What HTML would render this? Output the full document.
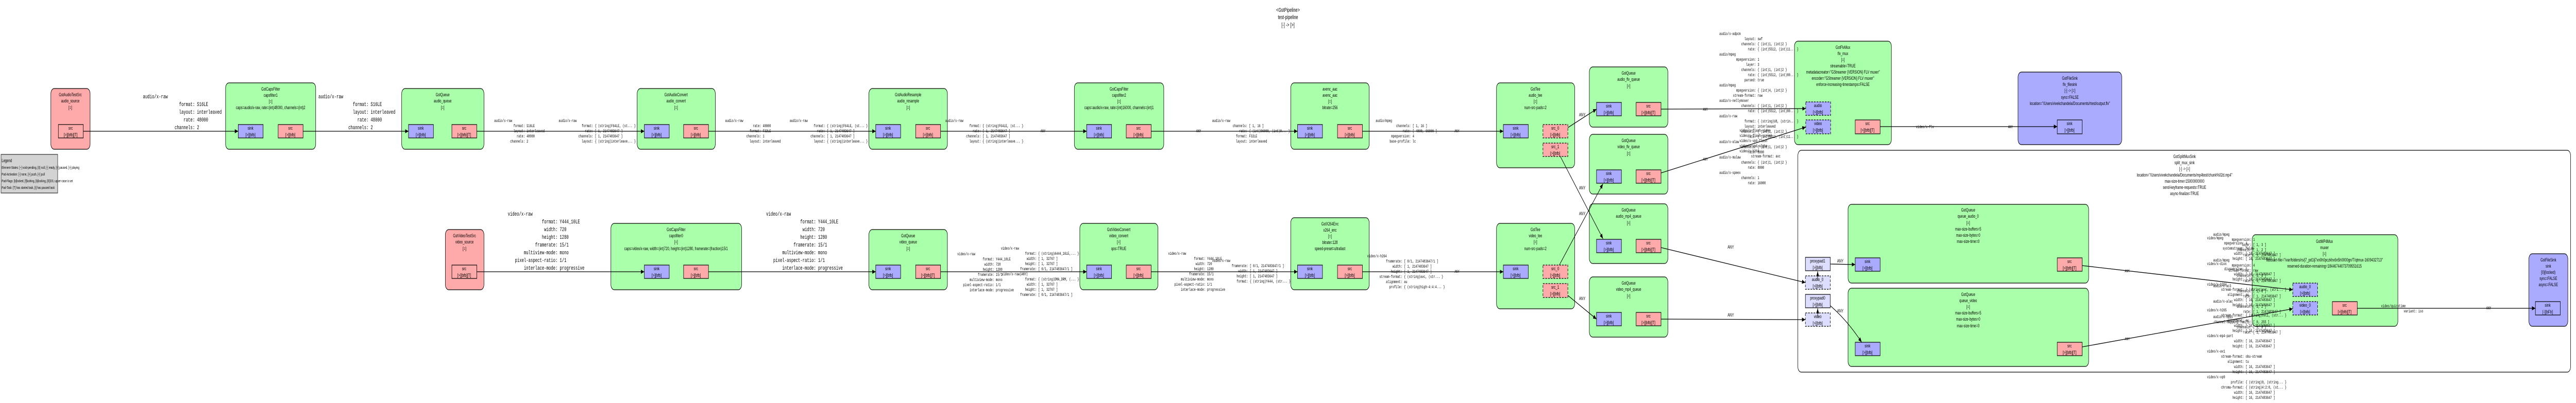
<!DOCTYPE html>
<html><head><meta charset="utf-8"><style>
html,body{margin:0;padding:0;background:#fff;width:100%;height:100%;overflow:hidden;}
svg{display:block;width:100vw;height:100vh;position:absolute;left:0;top:0;}
text{font-family:"Liberation Sans",sans-serif;font-size:9px;fill:#000;}
.t{text-anchor:middle;}
.p{text-anchor:middle;font-size:9.5px;}
.m{font-family:"Liberation Mono",monospace;font-size:8px;}
.me{font-family:"Liberation Mono",monospace;font-size:8px;text-anchor:end;}
.b{font-family:"Liberation Mono",monospace;font-size:11px;}
.be{font-family:"Liberation Mono",monospace;font-size:11px;text-anchor:end;}
.el{fill:#aaffaa;stroke:#000;stroke-width:1.2;}
.so{fill:#ffaaaa;stroke:#000;stroke-width:1.2;}
.si{fill:#aaaaff;stroke:#000;stroke-width:1.2;}
.ps{fill:#aaaaff;stroke:#000;stroke-width:1.2;}
.pr{fill:#ffaaaa;stroke:#000;stroke-width:1.2;}
.pd{stroke-dasharray:5,3;}
.px{fill:#ddddff;stroke:#000;stroke-width:1.2;}
.e{stroke:#000;stroke-width:1.3;fill:none;marker-end:url(#a);}
.a{font-size:9px;}
</style></head><body>
<svg viewBox="0 0 7548 783" preserveAspectRatio="none" xmlns="http://www.w3.org/2000/svg">
<defs><marker id="a" markerWidth="10" markerHeight="8" refX="10" refY="4" orient="auto" markerUnits="userSpaceOnUse"><path d="M0,0 L10,4 L0,8 z" fill="#000"/></marker></defs>

<text class="t" x="3774" y="23" style="font-size:11px">&lt;GstPipeline&gt;</text>
<text class="t" x="3774" y="37" style="font-size:11px">test-pipeline</text>
<text class="t" x="3774" y="52" style="font-size:11px">[-] -&gt; [&gt;]</text>

<rect x="3" y="300" width="166" height="75" fill="#d3d3d3" stroke="#000"/>
<text x="5" y="315">Legend</text>
<text x="5" y="328" style="font-size:7px">Element-States: [~] void-pending, [0] null, [-] ready, [=] paused, [&gt;] playing</text>
<text x="5" y="341" style="font-size:7px">Pad-Activation: [-] none, [&gt;] push, [&lt;] pull</text>
<text x="5" y="354" style="font-size:7px">Pad-Flags: [b]locked, [f]lushing, [b]locking, [E]OS; upper-case is set</text>
<text x="5" y="367" style="font-size:7px">Pad-Task: [T] has started task, [t] has paused task</text>

<rect x="5268" y="292" width="2264" height="431" rx="10" fill="#fff" stroke="#000" stroke-width="1.2"/>
<text class="t" x="6401" y="307">GstSplitMuxSink</text>
<text class="t" x="6401" y="319">split_mux_sink</text>
<text class="t" x="6401" y="331">[-] -&gt; [=]</text>
<text class="t" x="6401" y="343">location="/Users/vivekchandela/Documents/mp4test/chunk%02d.mp4"</text>
<text class="t" x="6401" y="355">max-size-time=15000000000</text>
<text class="t" x="6401" y="367">send-keyframe-requests=TRUE</text>
<text class="t" x="6401" y="379">async-finalize=TRUE</text>

<rect class="so" x="149" y="172" width="115" height="118" rx="10"/>
<text class="t" x="206" y="187">GstAudioTestSrc</text><text class="t" x="206" y="199">audio_source</text><text class="t" x="206" y="212">[=]</text>
<rect class="pr" x="171" y="242" width="73" height="26"/><text class="p" x="207" y="252">src</text><text class="p" x="207" y="265">[&gt;][bfb][T]</text>

<rect class="el" x="661" y="161" width="264" height="129" rx="10"/>
<text class="t" x="793" y="176">GstCapsFilter</text><text class="t" x="793" y="188">capsfilter1</text><text class="t" x="793" y="200">[=]</text><text class="t" x="793" y="212">caps=audio/x-raw, rate=(int)48000, channels=(int)2</text>
<rect class="ps" x="698" y="242" width="73" height="26"/><text class="p" x="734" y="252">sink</text><text class="p" x="734" y="265">[&gt;][bfb]</text>
<rect class="pr" x="815" y="242" width="73" height="26"/><text class="p" x="851" y="252">src</text><text class="p" x="851" y="265">[&gt;][bfb]</text>

<rect class="el" x="1177" y="172" width="241" height="118" rx="10"/>
<text class="t" x="1297" y="187">GstQueue</text><text class="t" x="1297" y="199">audio_queue</text><text class="t" x="1297" y="212">[=]</text>
<rect class="ps" x="1197" y="242" width="73" height="26"/><text class="p" x="1233" y="252">sink</text><text class="p" x="1233" y="265">[&gt;][bfb]</text>
<rect class="pr" x="1324" y="242" width="73" height="26"/><text class="p" x="1360" y="252">src</text><text class="p" x="1360" y="265">[&gt;][bfb][T]</text>

<rect class="el" x="1867" y="172" width="229" height="118" rx="10"/>
<text class="t" x="1981" y="187">GstAudioConvert</text><text class="t" x="1981" y="199">audio_convert</text><text class="t" x="1981" y="212">[=]</text>
<rect class="ps" x="1888" y="242" width="73" height="26"/><text class="p" x="1924" y="252">sink</text><text class="p" x="1924" y="265">[&gt;][bfb]</text>
<rect class="pr" x="2003" y="242" width="73" height="26"/><text class="p" x="2039" y="252">src</text><text class="p" x="2039" y="265">[&gt;][bfb]</text>

<rect class="el" x="2546" y="172" width="230" height="118" rx="10"/>
<text class="t" x="2661" y="187">GstAudioResample</text><text class="t" x="2661" y="199">audio_resample</text><text class="t" x="2661" y="212">[=]</text>
<rect class="ps" x="2566" y="242" width="73" height="26"/><text class="p" x="2602" y="252">sink</text><text class="p" x="2602" y="265">[&gt;][bfb]</text>
<rect class="pr" x="2683" y="242" width="73" height="26"/><text class="p" x="2719" y="252">src</text><text class="p" x="2719" y="265">[&gt;][bfb]</text>

<rect class="el" x="3148" y="161" width="262" height="129" rx="10"/>
<text class="t" x="3279" y="176">GstCapsFilter</text><text class="t" x="3279" y="188">capsfilter2</text><text class="t" x="3279" y="200">[=]</text><text class="t" x="3279" y="212">caps=audio/x-raw, rate=(int)16000, channels=(int)1</text>
<rect class="ps" x="3184" y="242" width="73" height="26"/><text class="p" x="3220" y="252">sink</text><text class="p" x="3220" y="265">[&gt;][bfb]</text>
<rect class="pr" x="3300" y="242" width="73" height="26"/><text class="p" x="3336" y="252">src</text><text class="p" x="3336" y="265">[&gt;][bfb]</text>

<rect class="el" x="3782" y="161" width="230" height="129" rx="10"/>
<text class="t" x="3897" y="176">avenc_aac</text><text class="t" x="3897" y="188">avenc_aac</text><text class="t" x="3897" y="200">[=]</text><text class="t" x="3897" y="212">bitrate=256</text>
<rect class="ps" x="3802" y="242" width="73" height="26"/><text class="p" x="3838" y="252">sink</text><text class="p" x="3838" y="265">[&gt;][bfb]</text>
<rect class="pr" x="3919" y="242" width="73" height="26"/><text class="p" x="3955" y="252">src</text><text class="p" x="3955" y="265">[&gt;][bfb]</text>

<rect class="el" x="4385" y="161" width="229" height="165" rx="10"/>
<text class="t" x="4499" y="176">GstTee</text><text class="t" x="4499" y="188">audio_tee</text><text class="t" x="4499" y="200">[=]</text><text class="t" x="4499" y="212">num-src-pads=2</text>
<rect class="ps" x="4405" y="242" width="73" height="26"/><text class="p" x="4441" y="252">sink</text><text class="p" x="4441" y="265">[&gt;][bfb]</text>
<rect class="pr pd" x="4521" y="242" width="73" height="26"/><text class="p" x="4557" y="252">src_0</text><text class="p" x="4557" y="265">[&gt;][bfb]</text>
<rect class="pr pd" x="4521" y="278" width="73" height="26"/><text class="p" x="4557" y="288">src_1</text><text class="p" x="4557" y="301">[&gt;][bfb]</text>

<rect class="el" x="4657" y="130" width="230" height="117" rx="10"/>
<text class="t" x="4772" y="145">GstQueue</text><text class="t" x="4772" y="157">audio_flv_queue</text><text class="t" x="4772" y="170">[=]</text>
<rect class="ps" x="4678" y="199" width="73" height="26"/><text class="p" x="4714" y="209">sink</text><text class="p" x="4714" y="222">[&gt;][bfb]</text>
<rect class="pr" x="4794" y="199" width="73" height="26"/><text class="p" x="4830" y="209">src</text><text class="p" x="4830" y="222">[&gt;][bfb][T]</text>

<rect class="el" x="4657" y="261" width="230" height="116" rx="10"/>
<text class="t" x="4772" y="276">GstQueue</text><text class="t" x="4772" y="288">video_flv_queue</text><text class="t" x="4772" y="301">[=]</text>
<rect class="ps" x="4678" y="330" width="73" height="26"/><text class="p" x="4714" y="340">sink</text><text class="p" x="4714" y="353">[&gt;][bfb]</text>
<rect class="pr" x="4794" y="330" width="73" height="26"/><text class="p" x="4830" y="340">src</text><text class="p" x="4830" y="353">[&gt;][bfb][T]</text>

<rect class="el" x="4657" y="396" width="230" height="116" rx="10"/>
<text class="t" x="4772" y="411">GstQueue</text><text class="t" x="4772" y="423">audio_mp4_queue</text><text class="t" x="4772" y="436">[=]</text>
<rect class="ps" x="4678" y="465" width="73" height="26"/><text class="p" x="4714" y="475">sink</text><text class="p" x="4714" y="488">[&gt;][bfb]</text>
<rect class="pr" x="4794" y="465" width="73" height="26"/><text class="p" x="4830" y="475">src</text><text class="p" x="4830" y="488">[&gt;][bfb][T]</text>

<rect class="el" x="4657" y="538" width="230" height="117" rx="10"/>
<text class="t" x="4772" y="553">GstQueue</text><text class="t" x="4772" y="565">video_mp4_queue</text><text class="t" x="4772" y="578">[=]</text>
<rect class="ps" x="4678" y="607" width="73" height="26"/><text class="p" x="4714" y="617">sink</text><text class="p" x="4714" y="630">[&gt;][bfb]</text>
<rect class="pr" x="4794" y="607" width="73" height="26"/><text class="p" x="4830" y="617">src</text><text class="p" x="4830" y="630">[&gt;][bfb][T]</text>

<rect class="el" x="5258" y="80" width="284" height="201" rx="10"/>
<text class="t" x="5400" y="95">GstFlvMux</text><text class="t" x="5400" y="107">flv_mux</text><text class="t" x="5400" y="119">[=]</text><text class="t" x="5400" y="131">streamable=TRUE</text>
<text class="t" x="5400" y="143">metadatacreator="GStreamer {VERSION} FLV muxer"</text><text class="t" x="5400" y="155">encoder="GStreamer {VERSION} FLV muxer"</text><text class="t" x="5400" y="167">enforce-increasing-timestamps=FALSE</text>
<rect class="ps pd" x="5291" y="198" width="73" height="26"/><text class="p" x="5327" y="208">audio</text><text class="p" x="5327" y="221">[&gt;][bfb]</text>
<rect class="ps pd" x="5291" y="233" width="73" height="27"/><text class="p" x="5327" y="243">video</text><text class="p" x="5327" y="256">[&gt;][bfb]</text>
<rect class="pr" x="5436" y="233" width="73" height="27"/><text class="p" x="5472" y="243">src</text><text class="p" x="5472" y="256">[&gt;][bfb][T]</text>

<rect class="si" x="5913" y="140" width="304" height="141" rx="10"/>
<text class="t" x="6065" y="155">GstFileSink</text><text class="t" x="6065" y="167">flv_filesink</text><text class="t" x="6065" y="179">[-] -&gt; [=]</text><text class="t" x="6065" y="192">sync=FALSE</text><text class="t" x="6065" y="204">location="/Users/vivekchandela/Documents/rtest/output.flv"</text>
<rect class="ps" x="6028" y="233" width="73" height="27"/><text class="p" x="6064" y="243">sink</text><text class="p" x="6064" y="256">[&gt;][bfb]</text>

<rect class="so" x="1305" y="446" width="113" height="117" rx="10"/>
<text class="t" x="1361" y="461">GstVideoTestSrc</text><text class="t" x="1361" y="473">video_source</text><text class="t" x="1361" y="486">[=]</text>
<rect class="pr" x="1324" y="515" width="73" height="26"/><text class="p" x="1360" y="525">src</text><text class="p" x="1360" y="538">[&gt;][bfb][T]</text>

<rect class="el" x="1790" y="434" width="383" height="129" rx="10"/>
<text class="t" x="1981" y="449">GstCapsFilter</text><text class="t" x="1981" y="461">capsfilter0</text><text class="t" x="1981" y="473">[=]</text><text class="t" x="1981" y="486">caps=video/x-raw, width=(int)720, height=(int)1280, framerate=(fraction)15/1</text>
<rect class="ps" x="1888" y="515" width="73" height="26"/><text class="p" x="1924" y="525">sink</text><text class="p" x="1924" y="538">[&gt;][bfb]</text>
<rect class="pr" x="2003" y="515" width="73" height="26"/><text class="p" x="2039" y="525">src</text><text class="p" x="2039" y="538">[&gt;][bfb]</text>

<rect class="el" x="2546" y="446" width="230" height="117" rx="10"/>
<text class="t" x="2661" y="461">GstQueue</text><text class="t" x="2661" y="473">video_queue</text><text class="t" x="2661" y="486">[=]</text>
<rect class="ps" x="2566" y="515" width="73" height="26"/><text class="p" x="2602" y="525">sink</text><text class="p" x="2602" y="538">[&gt;][bfb]</text>
<rect class="pr" x="2683" y="515" width="73" height="26"/><text class="p" x="2719" y="525">src</text><text class="p" x="2719" y="538">[&gt;][bfb][T]</text>

<rect class="el" x="3164" y="434" width="229" height="129" rx="10"/>
<text class="t" x="3278" y="449">GstVideoConvert</text><text class="t" x="3278" y="461">video_convert</text><text class="t" x="3278" y="473">[=]</text><text class="t" x="3278" y="486">qos=TRUE</text>
<rect class="ps" x="3184" y="515" width="73" height="26"/><text class="p" x="3220" y="525">sink</text><text class="p" x="3220" y="538">[&gt;][bfb]</text>
<rect class="pr" x="3300" y="515" width="73" height="26"/><text class="p" x="3336" y="525">src</text><text class="p" x="3336" y="538">[&gt;][bfb]</text>

<rect class="el" x="3782" y="423" width="230" height="140" rx="10"/>
<text class="t" x="3897" y="438">GstX264Enc</text><text class="t" x="3897" y="450">x264_enc</text><text class="t" x="3897" y="462">[=]</text><text class="t" x="3897" y="474">bitrate=128</text><text class="t" x="3897" y="486">speed-preset=ultrafast</text>
<rect class="ps" x="3802" y="515" width="73" height="26"/><text class="p" x="3838" y="525">sink</text><text class="p" x="3838" y="538">[&gt;][bfb]</text>
<rect class="pr" x="3919" y="515" width="73" height="26"/><text class="p" x="3955" y="525">src</text><text class="p" x="3955" y="538">[&gt;][bfb]</text>

<rect class="el" x="4385" y="434" width="229" height="166" rx="10"/>
<text class="t" x="4499" y="449">GstTee</text><text class="t" x="4499" y="461">video_tee</text><text class="t" x="4499" y="473">[=]</text><text class="t" x="4499" y="486">num-src-pads=2</text>
<rect class="ps" x="4405" y="515" width="73" height="26"/><text class="p" x="4441" y="525">sink</text><text class="p" x="4441" y="538">[&gt;][bfb]</text>
<rect class="pr pd" x="4521" y="515" width="73" height="26"/><text class="p" x="4557" y="525">src_0</text><text class="p" x="4557" y="538">[&gt;][bfb]</text>
<rect class="pr pd" x="4521" y="551" width="73" height="27"/><text class="p" x="4557" y="561">src_1</text><text class="p" x="4557" y="574">[&gt;][bfb]</text>

<rect class="px" x="5290" y="500" width="73" height="26"/><text class="p" x="5326" y="510">proxypad1</text><text class="p" x="5326" y="523">[&gt;][bfb]</text>
<rect class="px pd" x="5290" y="536" width="73" height="26"/><text class="p" x="5326" y="546">audio_0</text><text class="p" x="5326" y="559">[&gt;][bfb]</text>
<rect class="px" x="5290" y="572" width="73" height="26"/><text class="p" x="5326" y="582">proxypad0</text><text class="p" x="5326" y="595">[&gt;][bfb]</text>
<rect class="px pd" x="5290" y="608" width="73" height="26"/><text class="p" x="5326" y="618">video</text><text class="p" x="5326" y="631">[&gt;][bfb]</text>
<line class="e" x1="5326" y1="545" x2="5326" y2="527"/>
<line class="e" x1="5326" y1="617" x2="5326" y2="599"/>

<rect class="el" x="5415" y="397" width="705" height="153" rx="10"/>
<text class="t" x="5767" y="411">GstQueue</text><text class="t" x="5767" y="423">queue_audio_0</text><text class="t" x="5767" y="436">[=]</text><text class="t" x="5767" y="448">max-size-buffers=5</text><text class="t" x="5767" y="460">max-size-bytes=0</text><text class="t" x="5767" y="472">max-size-time=0</text>
<rect class="ps" x="5436" y="501" width="73" height="26"/><text class="p" x="5472" y="511">sink</text><text class="p" x="5472" y="524">[&gt;][bfb]</text>
<rect class="pr" x="6028" y="501" width="73" height="26"/><text class="p" x="6064" y="511">src</text><text class="p" x="6064" y="524">[&gt;][bfb][T]</text>

<rect class="el" x="5415" y="560" width="705" height="152" rx="10"/>
<text class="t" x="5767" y="575">GstQueue</text><text class="t" x="5767" y="587">queue_video</text><text class="t" x="5767" y="599">[=]</text><text class="t" x="5767" y="611">max-size-buffers=5</text><text class="t" x="5767" y="623">max-size-bytes=0</text><text class="t" x="5767" y="636">max-size-time=0</text>
<rect class="ps" x="5436" y="665" width="73" height="26"/><text class="p" x="5472" y="675">sink</text><text class="p" x="5472" y="688">[&gt;][bfb]</text>
<rect class="pr" x="6028" y="665" width="73" height="26"/><text class="p" x="6064" y="675">src</text><text class="p" x="6064" y="688">[&gt;][bfb][T]</text>

<rect class="el" x="6599" y="456" width="427" height="178" rx="10"/>
<text class="t" x="6811" y="472">GstMP4Mux</text><text class="t" x="6811" y="484">muxer</text><text class="t" x="6811" y="496">[=]</text><text class="t" x="6811" y="508">faststart-file="/var/folders/rs/j7_pd1lj7xn0h0pczkhx6n5h0000gn/T/qtmux-1609432713"</text><text class="t" x="6811" y="520">reserved-duration-remaining=18446744073709551615</text>
<rect class="ps pd" x="6718" y="550" width="73" height="26"/><text class="p" x="6754" y="560">audio_0</text><text class="p" x="6754" y="573">[&gt;][bfb]</text>
<rect class="ps pd" x="6718" y="586" width="73" height="26"/><text class="p" x="6754" y="596">video_0</text><text class="p" x="6754" y="609">[&gt;][bfb]</text>
<rect class="pr" x="6834" y="586" width="73" height="26"/><text class="p" x="6870" y="596">src</text><text class="p" x="6870" y="609">[&gt;][bfb][T]</text>

<rect class="si" x="7410" y="493" width="114" height="141" rx="10"/>
<text class="t" x="7467" y="508">GstFileSink</text><text class="t" x="7467" y="520">sink</text><text class="t" x="7467" y="532">[0](locked)</text><text class="t" x="7467" y="544">sync=FALSE</text><text class="t" x="7467" y="556">async=FALSE</text>
<rect class="ps" x="7429" y="586" width="73" height="26"/><text class="p" x="7465" y="596">sink</text><text class="p" x="7465" y="609">[-][bFb]</text>

<line class="e" x1="244" y1="255" x2="698" y2="255"/>
<line class="e" x1="888" y1="255" x2="1197" y2="255"/>
<line class="e" x1="1397" y1="255" x2="1888" y2="255"/>
<line class="e" x1="2076" y1="255" x2="2566" y2="255"/>
<line class="e" x1="2756" y1="255" x2="3184" y2="255"/>
<line class="e" x1="3373" y1="255" x2="3802" y2="255"/>
<line class="e" x1="3992" y1="255" x2="4405" y2="255"/>
<line class="e" x1="4594" y1="248" x2="4678" y2="212"/>
<line class="e" x1="4572" y1="304" x2="4697" y2="464"/>
<line class="e" x1="4867" y1="212" x2="5291" y2="211"/>
<line class="e" x1="4867" y1="336" x2="5291" y2="247"/>
<line class="e" x1="5509" y1="246" x2="6028" y2="246"/>
<line class="e" x1="4867" y1="481" x2="5290" y2="549"/>
<line class="e" x1="4867" y1="620" x2="5290" y2="621"/>
<line class="e" x1="5363" y1="513" x2="5436" y2="514"/>
<path class="e" d="M5363,594 C5400,615 5430,640 5455,665"/>
<line class="e" x1="6101" y1="516" x2="6718" y2="563"/>
<line class="e" x1="6101" y1="674" x2="6718" y2="600"/>
<line class="e" x1="6907" y1="599" x2="7429" y2="599"/>

<line class="e" x1="1397" y1="528" x2="1888" y2="528"/>
<line class="e" x1="2076" y1="528" x2="2566" y2="528"/>
<line class="e" x1="2756" y1="528" x2="3184" y2="528"/>
<line class="e" x1="3373" y1="528" x2="3802" y2="528"/>
<line class="e" x1="3992" y1="528" x2="4405" y2="528"/>
<line class="e" x1="4569" y1="515" x2="4697" y2="357"/>
<line class="e" x1="4594" y1="574" x2="4678" y2="620"/>

<text class="b" x="419" y="191">audio/x-raw</text>
<text class="be" x="571" y="206">format:</text><text class="b" x="577" y="206">S16LE</text>
<text class="be" x="571" y="221">layout:</text><text class="b" x="577" y="221">interleaved</text>
<text class="be" x="571" y="236">rate:</text><text class="b" x="577" y="236">48000</text>
<text class="be" x="571" y="251">channels:</text><text class="b" x="577" y="251">2</text>

<text class="b" x="933" y="191">audio/x-raw</text>
<text class="be" x="1080" y="206">format:</text><text class="b" x="1086" y="206">S16LE</text>
<text class="be" x="1080" y="221">layout:</text><text class="b" x="1086" y="221">interleaved</text>
<text class="be" x="1080" y="236">rate:</text><text class="b" x="1086" y="236">48000</text>
<text class="be" x="1080" y="251">channels:</text><text class="b" x="1086" y="251">2</text>

<text class="m" x="1448" y="237">audio/x-raw</text>
<text class="me" x="1538" y="247">format:</text><text class="m" x="1543" y="247">S16LE</text>
<text class="me" x="1538" y="257">layout:</text><text class="m" x="1543" y="257">interleaved</text>
<text class="me" x="1538" y="267">rate:</text><text class="m" x="1543" y="267">48000</text>
<text class="me" x="1538" y="277">channels:</text><text class="m" x="1543" y="277">2</text>
<text class="m" x="1637" y="237">audio/x-raw</text>
<text class="me" x="1738" y="247">format:</text><text class="m" x="1743" y="247">{ (string)F64LE, (st... }</text>
<text class="me" x="1738" y="257">rate:</text><text class="m" x="1743" y="257">[ 1, 2147483647 ]</text>
<text class="me" x="1738" y="267">channels:</text><text class="m" x="1743" y="267">[ 1, 2147483647 ]</text>
<text class="me" x="1738" y="277">layout:</text><text class="m" x="1743" y="277">{ (string)interleave... }</text>

<text class="m" x="2125" y="237">audio/x-raw</text>
<text class="me" x="2230" y="247">rate:</text><text class="m" x="2235" y="247">48000</text>
<text class="me" x="2230" y="257">format:</text><text class="m" x="2235" y="257">F32LE</text>
<text class="me" x="2230" y="267">channels:</text><text class="m" x="2235" y="267">1</text>
<text class="me" x="2230" y="277">layout:</text><text class="m" x="2235" y="277">interleaved</text>
<text class="m" x="2314" y="237">audio/x-raw</text>
<text class="me" x="2418" y="247">format:</text><text class="m" x="2423" y="247">{ (string)F64LE, (st... }</text>
<text class="me" x="2418" y="257">rate:</text><text class="m" x="2423" y="257">[ 1, 2147483647 ]</text>
<text class="me" x="2418" y="267">channels:</text><text class="m" x="2423" y="267">[ 1, 2147483647 ]</text>
<text class="me" x="2418" y="277">layout:</text><text class="m" x="2423" y="277">{ (string)interleave... }</text>

<text class="m" x="2770" y="237">audio/x-raw</text>
<text class="me" x="2874" y="247">format:</text><text class="m" x="2879" y="247">{ (string)F64LE, (st... }</text>
<text class="me" x="2874" y="257">rate:</text><text class="m" x="2879" y="257">[ 1, 2147483647 ]</text>
<text class="me" x="2874" y="267">channels:</text><text class="m" x="2879" y="267">[ 1, 2147483647 ]</text>
<text class="me" x="2874" y="277">layout:</text><text class="m" x="2879" y="277">{ (string)interleave... }</text>
<text class="m" x="3049" y="257">ANY</text>

<text class="m" x="3505" y="257">ANY</text>
<text class="m" x="3552" y="237">audio/x-raw</text>
<text class="me" x="3655" y="247">channels:</text><text class="m" x="3660" y="247">[ 1, 16 ]</text>
<text class="me" x="3655" y="257">rate:</text><text class="m" x="3660" y="257">{ (int)96000, (int)8... }</text>
<text class="me" x="3655" y="267">format:</text><text class="m" x="3660" y="267">F32LE</text>
<text class="me" x="3655" y="277">layout:</text><text class="m" x="3660" y="277">interleaved</text>

<text class="m" x="4031" y="237">audio/mpeg</text>
<text class="me" x="4134" y="247">channels:</text><text class="m" x="4139" y="247">[ 1, 16 ]</text>
<text class="me" x="4134" y="257">rate:</text><text class="m" x="4139" y="257">[ 4800, 96000 ]</text>
<text class="me" x="4134" y="267">mpegversion:</text><text class="m" x="4139" y="267">4</text>
<text class="me" x="4134" y="277">base-profile:</text><text class="m" x="4139" y="277">lc</text>
<text class="m" x="4262" y="257">ANY</text>

<text class="a" x="4627" y="226">ANY</text>
<text class="a" x="4627" y="368">ANY</text>
<text class="a" x="4627" y="418">ANY</text>
<text class="a" x="4627" y="583">ANY</text>
<text class="m" x="4990" y="215">ANY</text>
<text class="m" x="4990" y="312">ANY</text>
<text class="a" x="5062" y="483">ANY</text>
<text class="a" x="5062" y="615">ANY</text>
<text class="a" x="5383" y="510">ANY</text>
<text class="a" x="5383" y="607">ANY</text>
<text class="m" x="5614" y="249">video/x-flv</text>
<text class="m" x="5884" y="249">ANY</text>
<text class="m" x="6226" y="529">ANY</text>
<text class="m" x="6226" y="661">ANY</text>
<text class="m" x="6977" y="597">video/quicktime</text>
<text class="m" x="7043" y="607">variant: iso</text>
<text class="m" x="7285" y="601">ANY</text>

<text class="m" x="5038" y="68">audio/x-adpcm</text>
<text class="me" x="5145" y="78">layout:</text><text class="m" x="5150" y="78">swf</text>
<text class="me" x="5145" y="88">channels:</text><text class="m" x="5150" y="88">{ (int)1, (int)2 }</text>
<text class="me" x="5145" y="98">rate:</text><text class="m" x="5150" y="98">{ (int)5512, (int)11... }</text>
<text class="m" x="5038" y="108">audio/mpeg</text>
<text class="me" x="5145" y="118">mpegversion:</text><text class="m" x="5150" y="118">1</text>
<text class="me" x="5145" y="128">layer:</text><text class="m" x="5150" y="128">3</text>
<text class="me" x="5145" y="138">channels:</text><text class="m" x="5150" y="138">{ (int)1, (int)2 }</text>
<text class="me" x="5145" y="148">rate:</text><text class="m" x="5150" y="148">{ (int)5512, (int)80... }</text>
<text class="me" x="5145" y="158">parsed:</text><text class="m" x="5150" y="158">true</text>
<text class="m" x="5038" y="168">audio/mpeg</text>
<text class="me" x="5145" y="178">mpegversion:</text><text class="m" x="5150" y="178">{ (int)4, (int)2 }</text>
<text class="me" x="5145" y="188">stream-format:</text><text class="m" x="5150" y="188">raw</text>
<text class="m" x="5038" y="198">audio/x-nellymoser</text>
<text class="me" x="5145" y="208">channels:</text><text class="m" x="5150" y="208">{ (int)1, (int)2 }</text>
<text class="me" x="5145" y="218">rate:</text><text class="m" x="5150" y="218">{ (int)5512, (int)80... }</text>
<text class="m" x="5038" y="228">audio/x-raw</text>
<text class="me" x="5145" y="238">format:</text><text class="m" x="5150" y="238">{ (string)U8, (strin... }</text>
<text class="me" x="5145" y="248">layout:</text><text class="m" x="5150" y="248">interleaved</text>
<text class="me" x="5145" y="258">channels:</text><text class="m" x="5150" y="258">{ (int)1, (int)2 }</text>
<text class="me" x="5145" y="268">rate:</text><text class="m" x="5150" y="268">{ (int)5512, (int)11... }</text>
<text class="m" x="5038" y="278">audio/x-alaw</text>
<text class="me" x="5145" y="288">channels:</text><text class="m" x="5150" y="288">{ (int)1, (int)2 }</text>
<text class="me" x="5145" y="298">rate:</text><text class="m" x="5150" y="298">8000</text>
<text class="m" x="5038" y="308">audio/x-mulaw</text>
<text class="me" x="5145" y="318">channels:</text><text class="m" x="5150" y="318">{ (int)1, (int)2 }</text>
<text class="me" x="5145" y="328">rate:</text><text class="m" x="5150" y="328">8000</text>
<text class="m" x="5038" y="338">audio/x-speex</text>
<text class="me" x="5145" y="348">channels:</text><text class="m" x="5150" y="348">1</text>
<text class="me" x="5145" y="358">rate:</text><text class="m" x="5150" y="358">16000</text>
<text class="m" x="5097" y="256">video/x-flash-video</text>
<text class="m" x="5097" y="266">video/x-flash-screen</text>
<text class="m" x="5097" y="276">video/x-vp6-flash</text>
<text class="m" x="5097" y="286">video/x-vp6-alpha</text>
<text class="m" x="5097" y="296">video/x-h264</text>
<text class="m" x="5131" y="306">stream-format: avc</text>

<text class="b" x="1488" y="419">video/x-raw</text>
<text class="be" x="1634" y="434">format:</text><text class="b" x="1640" y="434">Y444_10LE</text>
<text class="be" x="1634" y="449">width:</text><text class="b" x="1640" y="449">720</text>
<text class="be" x="1634" y="464">height:</text><text class="b" x="1640" y="464">1280</text>
<text class="be" x="1634" y="479">framerate:</text><text class="b" x="1640" y="479">15/1</text>
<text class="be" x="1634" y="494">multiview-mode:</text><text class="b" x="1640" y="494">mono</text>
<text class="be" x="1634" y="509">pixel-aspect-ratio:</text><text class="b" x="1640" y="509">1/1</text>
<text class="be" x="1634" y="524">interlace-mode:</text><text class="b" x="1640" y="524">progressive</text>

<text class="b" x="2245" y="419">video/x-raw</text>
<text class="be" x="2391" y="434">format:</text><text class="b" x="2397" y="434">Y444_10LE</text>
<text class="be" x="2391" y="449">width:</text><text class="b" x="2397" y="449">720</text>
<text class="be" x="2391" y="464">height:</text><text class="b" x="2397" y="464">1280</text>
<text class="be" x="2391" y="479">framerate:</text><text class="b" x="2397" y="479">15/1</text>
<text class="be" x="2391" y="494">multiview-mode:</text><text class="b" x="2397" y="494">mono</text>
<text class="be" x="2391" y="509">pixel-aspect-ratio:</text><text class="b" x="2397" y="509">1/1</text>
<text class="be" x="2391" y="524">interlace-mode:</text><text class="b" x="2397" y="524">progressive</text>

<text class="m" x="2805" y="496">video/x-raw</text>
<text class="me" x="2913" y="506">format:</text><text class="m" x="2918" y="506">Y444_10LE</text>
<text class="me" x="2913" y="516">width:</text><text class="m" x="2918" y="516">720</text>
<text class="me" x="2913" y="526">height:</text><text class="m" x="2918" y="526">1280</text>
<text class="me" x="2913" y="536">framerate:</text><text class="m" x="2918" y="536">15/1</text>
<text class="me" x="2913" y="546">multiview-mode:</text><text class="m" x="2918" y="546">mono</text>
<text class="me" x="2913" y="556">pixel-aspect-ratio:</text><text class="m" x="2918" y="556">1/1</text>
<text class="me" x="2913" y="566">interlace-mode:</text><text class="m" x="2918" y="566">progressive</text>
<text class="m" x="2933" y="485">video/x-raw</text>
<text class="me" x="3037" y="495">format:</text><text class="m" x="3042" y="495">{ (string)A444_16LE,... }</text>
<text class="me" x="3037" y="505">width:</text><text class="m" x="3042" y="505">[ 1, 32767 ]</text>
<text class="me" x="3037" y="515">height:</text><text class="m" x="3042" y="515">[ 1, 32767 ]</text>
<text class="me" x="3037" y="525">framerate:</text><text class="m" x="3042" y="525">[ 0/1, 2147483647/1 ]</text>
<text class="m" x="2935" y="535">video/x-raw(ANY)</text>
<text class="me" x="3037" y="545">format:</text><text class="m" x="3042" y="545">{ (string)DMA_DRM, (... }</text>
<text class="me" x="3037" y="555">width:</text><text class="m" x="3042" y="555">[ 1, 32767 ]</text>
<text class="me" x="3037" y="565">height:</text><text class="m" x="3042" y="565">[ 1, 32767 ]</text>
<text class="me" x="3037" y="575">framerate:</text><text class="m" x="3042" y="575">[ 0/1, 2147483647/1 ]</text>

<text class="m" x="3423" y="495">video/x-raw</text>
<text class="me" x="3532" y="505">format:</text><text class="m" x="3537" y="505">Y444_10LE</text>
<text class="me" x="3532" y="515">width:</text><text class="m" x="3537" y="515">720</text>
<text class="me" x="3532" y="525">height:</text><text class="m" x="3537" y="525">1280</text>
<text class="me" x="3532" y="535">framerate:</text><text class="m" x="3537" y="535">15/1</text>
<text class="me" x="3532" y="545">multiview-mode:</text><text class="m" x="3537" y="545">mono</text>
<text class="me" x="3532" y="555">pixel-aspect-ratio:</text><text class="m" x="3537" y="555">1/1</text>
<text class="me" x="3532" y="565">interlace-mode:</text><text class="m" x="3537" y="565">progressive</text>
<text class="m" x="3552" y="509">video/x-raw</text>
<text class="me" x="3657" y="519">framerate:</text><text class="m" x="3662" y="519">[ 0/1, 2147483647/1 ]</text>
<text class="me" x="3657" y="529">width:</text><text class="m" x="3662" y="529">[ 1, 2147483647 ]</text>
<text class="me" x="3657" y="539">height:</text><text class="m" x="3662" y="539">[ 1, 2147483647 ]</text>
<text class="me" x="3657" y="549">format:</text><text class="m" x="3662" y="549">{ (string)Y444, (str... }</text>

<text class="m" x="4006" y="500">video/x-h264</text>
<text class="me" x="4109" y="510">framerate:</text><text class="m" x="4114" y="510">[ 0/1, 2147483647/1 ]</text>
<text class="me" x="4109" y="520">width:</text><text class="m" x="4114" y="520">[ 1, 2147483647 ]</text>
<text class="me" x="4109" y="530">height:</text><text class="m" x="4114" y="530">[ 1, 2147483647 ]</text>
<text class="me" x="4109" y="540">stream-format:</text><text class="m" x="4114" y="540">{ (string)avc, (str... }</text>
<text class="me" x="4109" y="550">alignment:</text><text class="m" x="4114" y="550">au</text>
<text class="me" x="4109" y="560">profile:</text><text class="m" x="4114" y="560">{ (string)high-4:4:4... }</text>
<text class="m" x="4262" y="530">ANY</text>

<text class="m" x="6467" y="465">video/mpeg</text>
<text class="me" x="6575" y="475">mpegversion:</text><text class="m" x="6580" y="475">4</text>
<text class="me" x="6575" y="485">systemstream:</text><text class="m" x="6580" y="485">false</text>
<text class="me" x="6575" y="495">width:</text><text class="m" x="6580" y="495">[ 16, 2147483647 ]</text>
<text class="me" x="6575" y="505">height:</text><text class="m" x="6580" y="505">[ 16, 2147483647 ]</text>
<text class="m" x="6467" y="515">video/x-divx</text>
<text class="me" x="6575" y="525">divxversion:</text><text class="m" x="6580" y="525">5</text>
<text class="me" x="6575" y="535">width:</text><text class="m" x="6580" y="535">[ 16, 2147483647 ]</text>
<text class="me" x="6575" y="545">height:</text><text class="m" x="6580" y="545">[ 16, 2147483647 ]</text>
<text class="m" x="6467" y="555">video/x-h264</text>
<text class="me" x="6575" y="565">stream-format:</text><text class="m" x="6580" y="565">{ (string)avc, (stri... }</text>
<text class="me" x="6575" y="575">alignment:</text><text class="m" x="6580" y="575">au</text>
<text class="me" x="6575" y="585">width:</text><text class="m" x="6580" y="585">[ 16, 2147483647 ]</text>
<text class="me" x="6575" y="595">height:</text><text class="m" x="6580" y="595">[ 16, 2147483647 ]</text>
<text class="m" x="6467" y="605">video/x-h265</text>
<text class="me" x="6575" y="615">stream-format:</text><text class="m" x="6580" y="615">{ (string)hvc1, (str... }</text>
<text class="me" x="6575" y="625">alignment:</text><text class="m" x="6580" y="625">au</text>
<text class="me" x="6575" y="635">width:</text><text class="m" x="6580" y="635">[ 16, 2147483647 ]</text>
<text class="me" x="6575" y="645">height:</text><text class="m" x="6580" y="645">[ 16, 2147483647 ]</text>
<text class="m" x="6467" y="655">video/x-mp4-part</text>
<text class="me" x="6575" y="665">width:</text><text class="m" x="6580" y="665">[ 16, 2147483647 ]</text>
<text class="me" x="6575" y="675">height:</text><text class="m" x="6580" y="675">[ 16, 2147483647 ]</text>
<text class="m" x="6467" y="685">video/x-av1</text>
<text class="me" x="6575" y="695">stream-format:</text><text class="m" x="6580" y="695">obu-stream</text>
<text class="me" x="6575" y="705">alignment:</text><text class="m" x="6580" y="705">tu</text>
<text class="me" x="6575" y="715">width:</text><text class="m" x="6580" y="715">[ 16, 2147483647 ]</text>
<text class="me" x="6575" y="725">height:</text><text class="m" x="6580" y="725">[ 16, 2147483647 ]</text>
<text class="m" x="6467" y="735">video/x-vp9</text>
<text class="me" x="6575" y="745">profile:</text><text class="m" x="6580" y="745">{ (string)0, (string... }</text>
<text class="me" x="6575" y="755">chroma-format:</text><text class="m" x="6580" y="755">{ (string)4:2:0, (st... }</text>
<text class="me" x="6575" y="765">width:</text><text class="m" x="6580" y="765">[ 16, 2147483647 ]</text>
<text class="me" x="6575" y="775">height:</text><text class="m" x="6580" y="775">[ 16, 2147483647 ]</text>
<text class="m" x="6485" y="458">audio/mpeg</text>
<text class="me" x="6597" y="468">mpegversion:</text><text class="m" x="6602" y="468">1</text>
<text class="me" x="6597" y="478">layer:</text><text class="m" x="6602" y="478">[ 1, 3 ]</text>
<text class="me" x="6597" y="488">channels:</text><text class="m" x="6602" y="488">[ 1, 2 ]</text>
<text class="me" x="6597" y="498">rate:</text><text class="m" x="6602" y="498">[ 1, 2147483647 ]</text>
<text class="m" x="6485" y="508">audio/mpeg</text>
<text class="me" x="6597" y="518">mpegversion:</text><text class="m" x="6602" y="518">4</text>
<text class="me" x="6597" y="528">stream-format:</text><text class="m" x="6602" y="528">raw</text>
<text class="me" x="6597" y="538">channels:</text><text class="m" x="6602" y="538">[ 1, 8 ]</text>
<text class="me" x="6597" y="548">rate:</text><text class="m" x="6602" y="548">[ 1, 2147483647 ]</text>
<text class="m" x="6485" y="558">audio/x-ac3</text>
<text class="me" x="6597" y="568">channels:</text><text class="m" x="6602" y="568">[ 1, 6 ]</text>
<text class="me" x="6597" y="578">rate:</text><text class="m" x="6602" y="578">[ 1, 2147483647 ]</text>
<text class="m" x="6485" y="588">audio/x-alac</text>
<text class="me" x="6597" y="598">channels:</text><text class="m" x="6602" y="598">[ 1, 2 ]</text>
<text class="me" x="6597" y="608">rate:</text><text class="m" x="6602" y="608">[ 1, 2147483647 ]</text>
<text class="m" x="6485" y="618">audio/x-opus</text>
<text class="me" x="6597" y="628">channel-mapping-family:</text><text class="m" x="6602" y="628">[ 0, 255 ]</text>
<text class="me" x="6597" y="638">channels:</text><text class="m" x="6602" y="638">[ 1, 8 ]</text>
<text class="me" x="6597" y="648">rate:</text><text class="m" x="6602" y="648">[ 1, 2147483647 ]</text>
</svg>
</body></html>
